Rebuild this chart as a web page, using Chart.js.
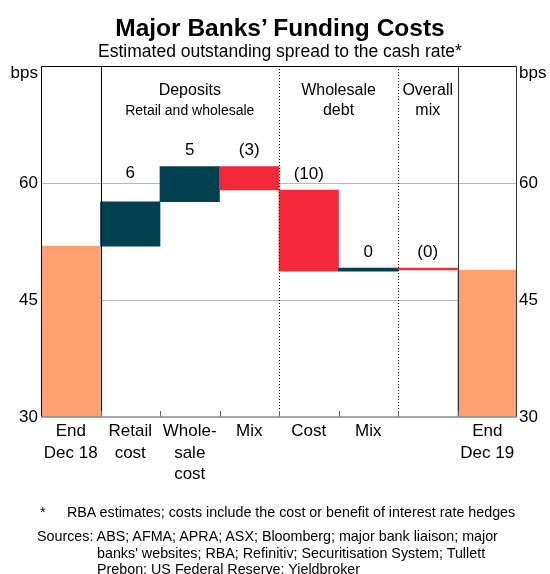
<!DOCTYPE html>
<html>
<head>
<meta charset="utf-8">
<script src="https://cdn.jsdelivr.net/npm/chart.js@4.4.0/dist/chart.umd.min.js"></script>
<style>
  html, body { margin: 0; padding: 0; background: #fff; }
  #wrap { position: relative; width: 550px; height: 574px; overflow: hidden;
          font-family: "Liberation Sans", Arial, sans-serif; color: #000; }
  #c { position: absolute; left: 0; top: 0; }
  .t { position: absolute; white-space: nowrap; line-height: 1; }
  .fn { font-size: 14.3px; }
</style>
</head>
<body>
<div id="wrap">
  <canvas id="c" width="550" height="574"></canvas>
  <div class="t" style="left:5px;width:550px;text-align:center;top:16px;font-size:24.5px;font-weight:bold;">Major Banks’ Funding Costs</div>
  <div class="t" style="left:5px;width:550px;text-align:center;top:43px;font-size:17.5px;">Estimated outstanding spread to the cash rate*</div>
  <div class="t fn" style="left:40px;top:505px;">*</div>
  <div class="t fn" style="left:67px;top:505px;">RBA estimates; costs include the cost or benefit of interest rate hedges</div>
  <div class="t fn" style="left:37px;top:529px;">Sources: ABS; AFMA; APRA; ASX; Bloomberg; major bank liaison; major</div>
  <div class="t fn" style="left:97px;top:546px;">banks' websites; RBA; Refinitiv; Securitisation System; Tullett</div>
  <div class="t fn" style="left:97px;top:562px;">Prebon; US Federal Reserve; Yieldbroker</div>
</div>
<script>
// Category labels along the bottom axis (multi-line)
const categories = [
  ['End', 'Dec 18'], ['Retail', 'cost'], ['Whole-', 'sale', 'cost'], ['Mix'],
  ['Cost'], ['Mix'], [''], ['End', 'Dec 19']
];
// Spread to the cash rate, bps
const startLevel = 51.9;                              // end Dec 2018
const changes = [5.7, 4.5, -3.0, -10.4, 0.4, -0.25];  // contributions over 2019
const endLevel = 48.85;                               // end Dec 2019
const yTicks = [30, 45, 60, 75];
// Panel headings: [first category, last category, lines]
const sectionHeads = [
  [1, 3, ['Deposits', 'Retail and wholesale']],
  [4, 5, ['Wholesale', 'debt']],
  [6, 6, ['Overall', 'mix']]
];

const FONT = '"Liberation Sans", Arial, sans-serif';
const COL_LEVEL = '#FFA070';
const COL_UP = '#00404F';
const COL_DOWN = '#F32838';
const yMin = yTicks[0], yMax = yTicks[yTicks.length - 1];

// Floating bars: levels sit on the axis floor, changes float from the running total
const bars = [[yMin, startLevel]];
const colors = [COL_LEVEL];
let running = startLevel;
changes.forEach(d => {
  bars.push([running, running + d]);
  colors.push(d >= 0 ? COL_UP : COL_DOWN);
  running += d;
});
bars.push([yMin, endLevel]);
colors.push(COL_LEVEL);

// vertical gap (px) between each change bar and its value label
const labelLift = [28, 16, 16, 16, 16, 16];

function boundaryX(x, i) {
  return (x.getPixelForValue(i - 1) + x.getPixelForValue(i)) / 2;
}

const decorations = {
  id: 'decorations',
  afterDatasetsDraw(chart) {
    const { ctx, chartArea: a, scales: { x } } = chart;
    ctx.save();
    // panel separators
    const seps = [[1, 'solid', '#000'], [4, 'dot', '#000'], [6, 'dot', '#000'], [7, 'solid', '#333']];
    seps.forEach(([i, style, col]) => {
      const px = Math.round(boundaryX(x, i)) + 0.5;
      ctx.strokeStyle = col;
      ctx.lineWidth = 1;
      ctx.setLineDash(style === 'dot' ? [1, 2] : []);
      ctx.beginPath(); ctx.moveTo(px, a.top); ctx.lineTo(px, a.bottom); ctx.stroke();
    });
    ctx.setLineDash([]);
    // inward ticks at category boundaries
    ctx.strokeStyle = '#666';
    for (let i = 1; i < categories.length; i++) {
      const px = Math.round(boundaryX(x, i)) + 0.5;
      ctx.beginPath(); ctx.moveTo(px, a.bottom); ctx.lineTo(px, a.bottom - 6); ctx.stroke();
    }
    // frame
    ctx.strokeStyle = '#000';
    ctx.beginPath();
    ctx.moveTo(a.left + 0.5, a.bottom); ctx.lineTo(a.left + 0.5, a.top + 0.5);
    ctx.lineTo(a.right - 0.5, a.top + 0.5);
    ctx.stroke();
    ctx.strokeStyle = '#333';
    ctx.beginPath(); ctx.moveTo(a.right - 0.5, a.top); ctx.lineTo(a.right - 0.5, a.bottom); ctx.stroke();
    ctx.strokeStyle = '#888';
    ctx.lineWidth = 1.5;
    ctx.beginPath(); ctx.moveTo(a.left, a.bottom); ctx.lineTo(a.right, a.bottom); ctx.stroke();

    // value labels above the change bars
    const meta = chart.getDatasetMeta(0);
    ctx.fillStyle = '#000';
    ctx.textAlign = 'center';
    ctx.textBaseline = 'middle';
    ctx.font = '17px ' + FONT;
    changes.forEach((d, k) => {
      const el = meta.data[k + 1];
      const top = Math.min(el.y, el.base);
      const r = Math.round(Math.abs(d));
      ctx.fillText(d < 0 ? '(' + r + ')' : String(r), el.x, top - labelLift[k]);
    });

    // panel headings
    sectionHeads.forEach(([from, to, lines]) => {
      const cx = (boundaryX(x, from) + boundaryX(x, to + 1)) / 2;
      const small = lines[0] === 'Deposits';
      ctx.font = '16px ' + FONT;
      ctx.fillText(lines[0], cx, 91);
      ctx.font = (small ? '14px ' : '16px ') + FONT;
      ctx.fillText(lines[1], cx, 111);
    });

    // unit labels
    ctx.font = '17px ' + FONT;
    ctx.textAlign = 'right';
    ctx.fillText('bps', a.left - 3, a.top + 7);
    ctx.textAlign = 'left';
    ctx.fillText('bps', a.right + 2, a.top + 7);
    ctx.restore();
  }
};

const yCommon = {
  min: yMin, max: yMax,
  afterBuildTicks: s => { s.ticks = yTicks.map(v => ({ value: v })); },
  border: { display: false },
  ticks: {
    color: '#000', font: { family: FONT, size: 17 },
    callback: v => (v === yMax ? '' : v)
  }
};

new Chart(document.getElementById('c'), {
  type: 'bar',
  data: {
    labels: categories,
    datasets: [{
      data: bars,
      backgroundColor: colors,
      borderWidth: 0,
      barPercentage: 1,
      categoryPercentage: 1
    }]
  },
  options: {
    responsive: false,
    animation: false,
    devicePixelRatio: 1,
    layout: { padding: { top: 66, left: 0, right: 0, bottom: 0 } },
    plugins: { legend: { display: false }, tooltip: { enabled: false }, title: { display: false } },
    scales: {
      x: {
        grid: { display: false },
        border: { display: false },
        ticks: {
          color: '#000', autoSkip: false, maxRotation: 0, padding: -4,
          font: { family: FONT, size: 17, lineHeight: 1.25 }
        },
        afterFit: s => { s.height = 157; }
      },
      y: Object.assign({}, yCommon, {
        position: 'left',
        grid: {
          drawTicks: false,
          color: c => (c.tick && (c.tick.value === 45 || c.tick.value === 60)) ? '#b8b8b8' : 'rgba(0,0,0,0)'
        },
        ticks: Object.assign({}, yCommon.ticks, { padding: 3 }),
        afterFit: s => { s.width = 41; }
      }),
      y2: Object.assign({}, yCommon, {
        position: 'right',
        grid: { display: false, drawTicks: false },
        ticks: Object.assign({}, yCommon.ticks, { padding: 2 }),
        afterFit: s => { s.width = 33; }
      })
    }
  },
  plugins: [decorations]
});
</script>
</body>
</html>
